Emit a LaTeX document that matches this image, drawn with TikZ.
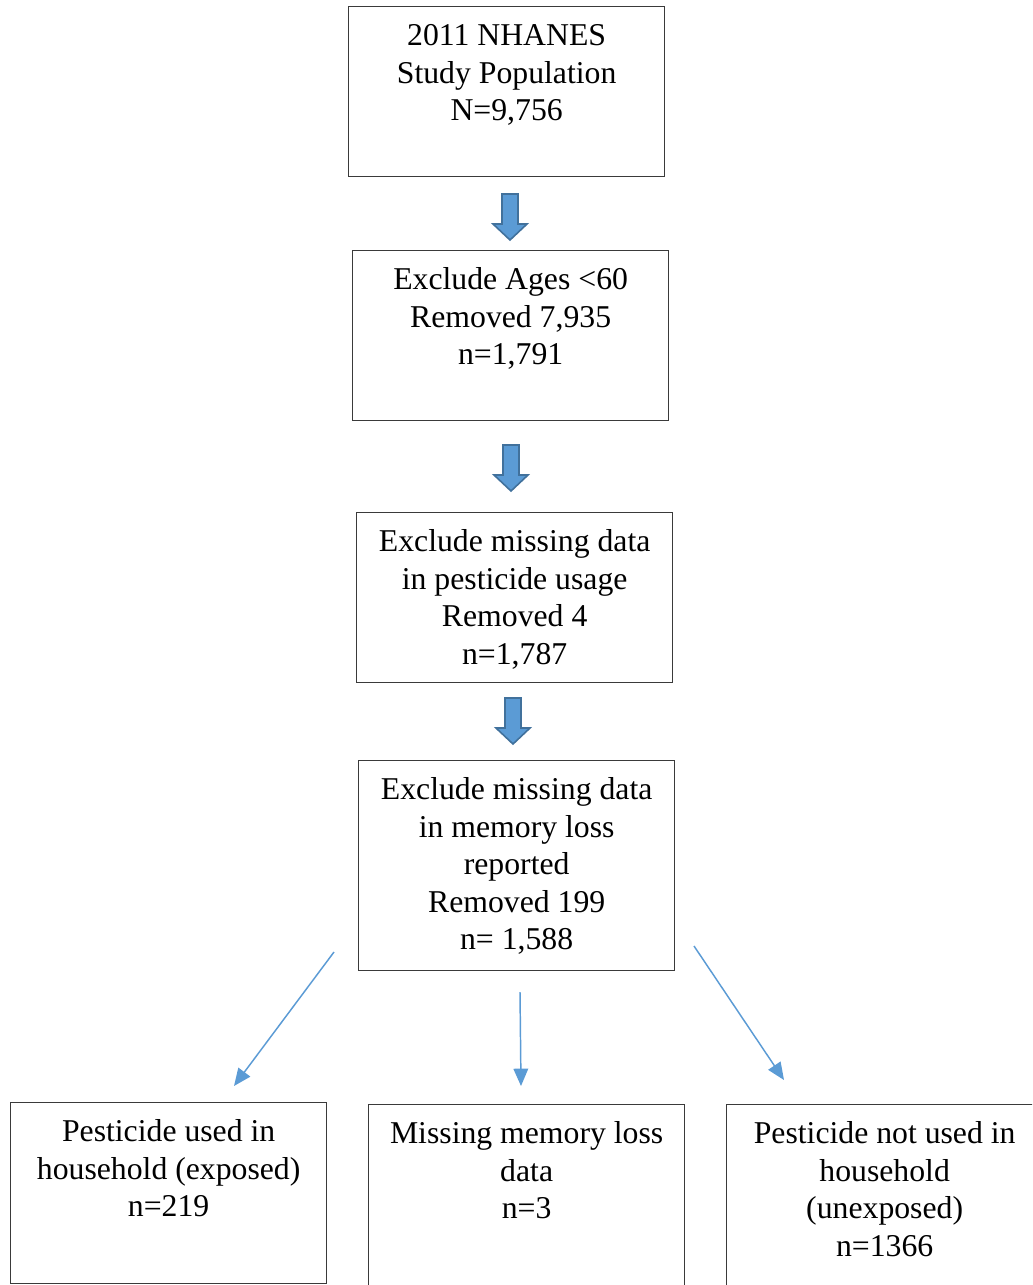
\documentclass[tikz,border=0pt]{standalone}
\usepackage{fontspec}
\setmainfont{Liberation Serif}
\usetikzlibrary{arrows.meta}
\definecolor{arrfill}{HTML}{5B9BD5}
\definecolor{arrline}{HTML}{41719C}
\definecolor{boxline}{HTML}{3A3A3A}
\newcommand{\fbtext}[3]{\parbox[c][#2][t]{#1}{\centering\fontsize{23.8pt}{28.1pt}\selectfont\rule{0pt}{29.25pt}#3}}
\newcommand{\blockarrow}[2]{%
  \draw[blockarr] (#1-8,#2) -- (#1+8,#2) -- (#1+8,#2+30) -- (#1+17,#2+30) -- (#1,#2+46)
    -- (#1-17,#2+30) -- (#1-8,#2+30) -- cycle;}
\tikzset{
  flowbox/.style={draw=boxline, line width=1pt, inner sep=0pt, anchor=north west},
  blockarr/.style={fill=arrfill, draw=arrline, line width=1.2pt, line join=miter},
  thinarr/.style={draw=arrfill, line width=1.1pt, -{Triangle[length=13pt,width=11pt]}}
}
\begin{document}
\begin{tikzpicture}[x=0.75pt,y=-0.75pt]
\clip (0,0) rectangle (1032,1285);
\fill[white] (0,0) rectangle (1032,1285);
% main column
\node[flowbox] (b1) at (348,6) {\fbtext{237pt}{127.5pt}{2011 NHANES\\Study Population\\N=9,756}};
\node[flowbox] (b2) at (352,250) {\fbtext{237pt}{127.5pt}{Exclude Ages {<}60\\Removed 7,935\\n=1,791}};
\node[flowbox] (b3) at (356,512) {\fbtext{237pt}{127.5pt}{Exclude missing data\\in pesticide usage\\Removed 4\\n=1,787}};
\node[flowbox] (b4) at (358,760) {\fbtext{237pt}{157.5pt}{Exclude missing data\\in memory loss\\reported\\Removed 199\\n= 1,588}};
% bottom row
\node[flowbox] (c1) at (10,1102) {\fbtext{237pt}{135.75pt}{Pesticide used in\\household (exposed)\\n=219}};
\node[flowbox] (c2) at (368,1104) {\fbtext{237pt}{145pt}{Missing memory loss\\data\\n=3}};
\node[flowbox] (c3) at (726,1104) {\fbtext{237pt}{145pt}{Pesticide not used in\\household\\(unexposed)\\n=1366}};
% block arrows
\blockarrow{510}{194}
\blockarrow{511}{445}
\blockarrow{513}{698}
% thin arrows
\coordinate (l0) at (334,952);
\coordinate (l1) at (234,1086);
\coordinate (m0) at (520,992);
\coordinate (m1) at (521,1086);
\coordinate (r0) at (694,946);
\coordinate (r1) at (784,1080);
\draw[thinarr] (l0) -- (l1);
\draw[thinarr] (m0) -- (m1);
\draw[thinarr] (r0) -- (r1);
\end{tikzpicture}
\end{document}
